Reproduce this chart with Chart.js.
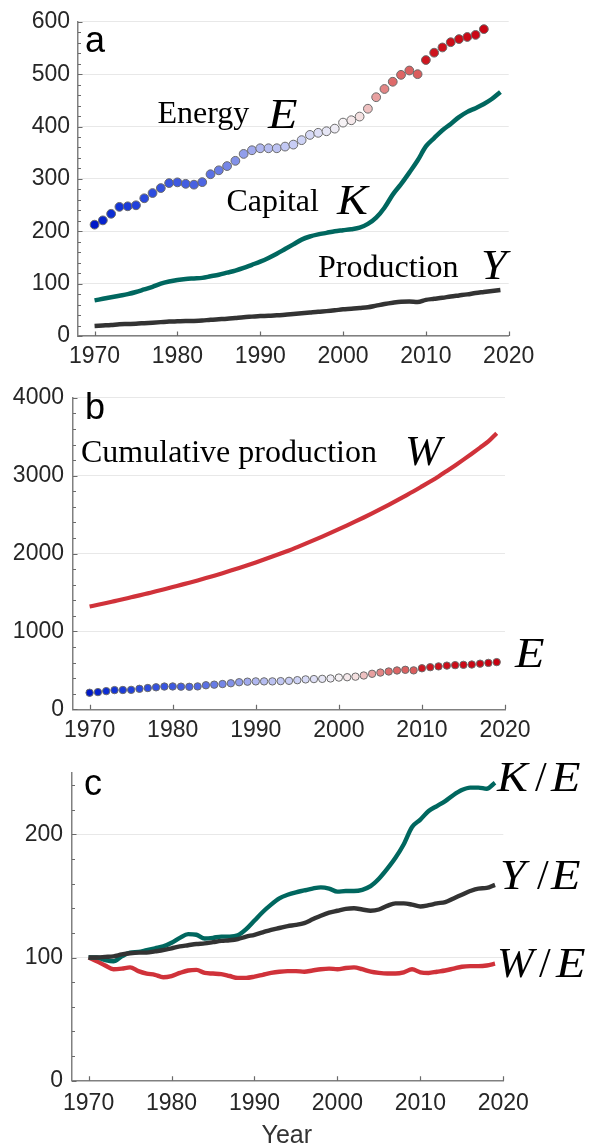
<!DOCTYPE html>
<html><head><meta charset="utf-8">
<script src="https://cdn.jsdelivr.net/npm/chart.js@4.4.1/dist/chart.umd.min.js"></script>
<style>
html,body{margin:0;padding:0;background:#fff;}
body{width:592px;height:1148px;position:relative;overflow:hidden;}
canvas{position:absolute;left:0;}
</style></head><body>
<canvas id="ca" width="592" height="380" style="top:0px;width:592px;height:380px"></canvas>
<canvas id="cb" width="592" height="385" style="top:375px;width:592px;height:385px"></canvas>
<canvas id="cc" width="592" height="398" style="top:750px;width:592px;height:398px"></canvas>
<script>
// ---------------- DATA ----------------
const years = [1970,1971,1972,1973,1974,1975,1976,1977,1978,1979,
               1980,1981,1982,1983,1984,1985,1986,1987,1988,1989,
               1990,1991,1992,1993,1994,1995,1996,1997,1998,1999,
               2000,2001,2002,2003,2004,2005,2006,2007,2008,2009,
               2010,2011,2012,2013,2014,2015,2016,2017,2018,2019];
const energy = [212.6,220.8,233.4,246.6,247.7,249.6,263,273,282.5,292,
                293.4,290.6,289,293.8,308.9,316.4,324.5,334.5,347.7,354.7,
                358.5,358.5,358.5,361.7,365.5,374,384,388,391,396,
                407.5,412,419,434,456,471.7,485.5,498.7,507,500,
                527,541,551,561,567,571,575,586,596,606];
const energyCountPanelA = 48; // panel a shows E for 1970-2017
const capital = [68,71,74,77,80,84,89,94,100,104,
                 107,109,110,111,114,117,121,125,130,136,
                 142,149,157,166,175,184,190,194,197,200,
                 202,204,207,214,226,245,270,290,312,335,
                 362,378,393,405,418,428,435,443,453,466];
const production = [19,20,21,22.5,23,23.5,24.5,25.5,26.5,27.5,
                    28,28.5,28.8,29.5,31,32,33,34.5,36,37,
                    38,38.5,39.5,40.5,42,43.5,45,46.5,47.5,49,
                    51,52,53.5,55,58,61,63.5,65.5,66,65,
                    69,71,73,75.5,77.5,79.5,82,84,86,88];
const cumulative = [1320,1342,1365,1389,1413,1438,1463,1489,1515,1542,
                    1570,1598,1626,1655,1685,1716,1748,1781,1815,1850,
                    1886,1923,1961,2000,2040,2083,2127,2172,2218,2265,
                    2313,2362,2412,2463,2516,2570,2626,2683,2741,2800,
                    2862,2925,2990,3060,3132,3206,3282,3360,3440,3545];
const ratioKE = [100,100,98,97,101,104,104.5,106,107.5,109,
                 112,116,119,118.5,115.5,116,117,117,118,123,
                 130,137,143,148,151,153,154.5,156,157,156,
                 153.5,154,154,155,158,164,172,181,192,206,
                 212,219,223,227,232,236,238,238,237,242];
const ratioYE = [100,100,100.5,101,102.5,103.5,104,104,105,106,
                 107.5,109,110,111,111.5,112.5,113.5,114,115,117,
                 118.5,120.5,122.5,124,125.5,126.5,128,131,134,136.5,
                 138,139.5,140,139,138,139,142,144,144,143,
                 141.5,142.5,144,145,148,151,154,156,156.5,159];
const ratioWE = [100,97,93.5,90.5,91,92,89,87,86,84,
                 85,87.5,89.5,90,87.5,87,86.5,85,83.5,83.5,
                 84.5,86,87.5,88.5,89,89,88.5,89.5,90.5,91,
                 90.5,91.5,92,90.5,88.5,87.5,87,87,88,90.5,
                 88,87.5,88.5,89.5,91,92.5,93,93,93.5,95];
const xTickLabels = [1970,1980,1990,2000,2010,2020];
const yTicksA = [0,100,200,300,400,500,600];
const yTicksB = [0,1000,2000,3000,4000];
const yTicksC = [0,100,200];

// ---------------- STYLE ----------------
const TEAL = '#00675f', DARK = '#333333', RED = '#d0323a';
const AXIS = '#808080', GRID = '#e8e8e8', TICKC = '#262626';
const TICKFONT = {family:'"Liberation Sans", Arial, sans-serif', size:23};
const SERIF = '"Liberation Serif", "Times New Roman", serif';
const colorStops = [
  [1970,[0,25,200]],[1972,[12,45,212]],[1976,[40,72,222]],[1983,[78,102,226]],
  [1987,[130,145,232]],[1990,[176,183,240]],[1995,[206,211,246]],[2000,[246,242,245]],
  [2002,[244,224,224]],[2004,[232,160,160]],[2006,[222,106,106]],[2009,[218,92,92]],
  [2010,[206,22,32]],[2019,[200,0,15]]];
function energyColor(yr){
  for(let i=0;i<colorStops.length-1;i++){
    const [y0,c0]=colorStops[i],[y1,c1]=colorStops[i+1];
    if(yr>=y0&&yr<=y1){const t=(yr-y0)/(y1-y0);
      return 'rgb('+c0.map((c,k)=>Math.round(c+(c1[k]-c)*t)).join(',')+')';}
  }
  return 'rgb(200,0,15)';
}
const pts = (vals) => vals.map((v,i)=>({x:years[i],y:v}));

function tickPlugin(yMajor, yMinorStep, yMax){
  return {id:'innerTicks', afterDraw(chart){
    const {ctx, chartArea:a, scales:{x,y}} = chart;
    ctx.save(); ctx.strokeStyle='#6a6a6a'; ctx.lineWidth=1.2; ctx.beginPath();
    for(let v=0; v<=yMax+1e-9; v+=yMinorStep){
      const py=Math.round(y.getPixelForValue(v))+0.5;
      const len = yMajor.includes(v)?4.5:3;
      ctx.moveTo(a.left,py); ctx.lineTo(a.left+len,py);
    }
    for(const v of xTickLabels){
      const px=Math.round(x.getPixelForValue(v))+0.5;
      ctx.moveTo(px,a.bottom); ctx.lineTo(px,a.bottom-4.5);
    }
    ctx.stroke(); ctx.restore();
  }};
}
function textPlugin(items, offY){
  return {id:'texts', afterDraw(chart){
    const ctx=chart.ctx;
    for(const t of items){
      ctx.save(); ctx.font=t.font; ctx.fillStyle=t.color||'#000';
      ctx.textBaseline='alphabetic'; ctx.textAlign='left';
      ctx.translate(t.x, t.y-offY); if(t.sx) ctx.scale(t.sx,1);
      ctx.fillText(t.text,0,0); ctx.restore();
    }
  }};
}
function panelOptions(c){
  return {
    responsive:false, maintainAspectRatio:false, animation:false,
    layout:{padding:{top:c.top,right:592-c.right,left:0,bottom:0}},
    plugins:{legend:{display:false},tooltip:{enabled:false}},
    elements:{line:{cubicInterpolationMode:'monotone'}},
    scales:{
      x:{type:'linear',min:1968,max:2020,
        afterBuildTicks:s=>{s.ticks=xTickLabels.map(v=>({value:v}));},
        afterFit:s=>{s.height=c.h-c.bottom;},
        grid:{color:'rgba(0,0,0,0)',drawTicks:false},
        border:{display:true,color:AXIS,width:1.5},
        ticks:{padding:c.xPad,font:TICKFONT,color:TICKC,maxRotation:0,autoSkip:false,callback:v=>String(v)}},
      y:{type:'linear',min:0,max:c.yMax,
        afterBuildTicks:s=>{s.ticks=c.yMajor.map(v=>({value:v}));},
        afterFit:s=>{s.width=c.left;},
        grid:{color:GRID,lineWidth:1,drawTicks:false},
        border:{display:true,color:AXIS,width:1.5},
        ticks:{padding:c.yPad,font:TICKFONT,color:TICKC,callback:v=>String(v)}}
    }
  };
}
const lineDs = (data,color,w)=>({data,borderColor:color,borderWidth:w,pointRadius:0,fill:false,clip:false});
const mathFont = 'italic 42px '+SERIF, slashFont = '42px '+SERIF, labFont = '32px '+SERIF;
const letterFont = '36px "Liberation Sans", Arial, sans-serif';

// ---------------- PANEL A ----------------
const eA = pts(energy.slice(0,energyCountPanelA));
new Chart(document.getElementById('ca'),{
  type:'line',
  data:{datasets:[
    {data:eA,showLine:false,pointRadius:4.4,pointBorderWidth:1,pointBorderColor:'#6b6b6b',
     pointBackgroundColor:eA.map(p=>energyColor(p.x)),clip:false},
    lineDs(pts(capital),TEAL,4.5),
    lineDs(pts(production),DARK,4.5)
  ]},
  options:panelOptions({top:18,bottom:336,left:78,right:508.7,h:380,yMax:600,yMajor:yTicksA,yPad:8,xPad:7}),
  plugins:[tickPlugin(yTicksA,20,600), textPlugin([
    {text:'a',x:85,y:51.5,font:letterFont},
    {text:'Energy',x:157.5,y:123.3,font:labFont},
    {text:'E',x:268,y:128,font:mathFont,sx:1.15},
    {text:'Capital',x:226.5,y:210.7,font:labFont},
    {text:'K',x:337,y:214.3,font:mathFont,sx:1.1},
    {text:'Production',x:318,y:276.7,font:labFont},
    {text:'Y',x:481,y:279,font:mathFont,sx:1.1}
  ],0)]
});

// ---------------- PANEL B ----------------
const eB = pts(energy);
new Chart(document.getElementById('cb'),{
  type:'line',
  data:{datasets:[
    {data:eB,showLine:false,pointRadius:3.7,pointBorderWidth:1,pointBorderColor:'#6b6b6b',
     pointBackgroundColor:eB.map(p=>energyColor(p.x)),clip:false},
    lineDs(pts(cumulative),RED,4.2)
  ]},
  options:panelOptions({top:16,bottom:334.3,left:73,right:505,h:385,yMax:4000,yMajor:yTicksB,yPad:9,xPad:8}),
  plugins:[tickPlugin(yTicksB,200,4000), textPlugin([
    {text:'b',x:85,y:419.3,font:letterFont},
    {text:'Cumulative production',x:81,y:461.7,font:labFont},
    {text:'W',x:405,y:465,font:mathFont,sx:1.05},
    {text:'E',x:515,y:666.7,font:mathFont,sx:1.15}
  ],375)]
});

// ---------------- PANEL C ----------------
new Chart(document.getElementById('cc'),{
  type:'line',
  data:{datasets:[
    lineDs(pts(ratioYE),DARK,4.4),
    lineDs(pts(ratioKE),TEAL,4.4),
    lineDs(pts(ratioWE),RED,4.4)
  ]},
  options:panelOptions({top:12,bottom:330.7,left:72,right:503.3,h:398,yMax:250,yMajor:yTicksC,yPad:9,xPad:9}),
  plugins:[tickPlugin(yTicksC,20,240), textPlugin([
    {text:'c',x:84,y:795,font:letterFont},
    {text:'K',x:497,y:790.7,font:mathFont,sx:1.1},
    {text:'/',x:535,y:790.7,font:slashFont},
    {text:'E',x:551,y:790.7,font:mathFont,sx:1.15},
    {text:'Y',x:500,y:889.3,font:mathFont,sx:1.1},
    {text:'/',x:537,y:889.3,font:slashFont},
    {text:'E',x:551,y:889.3,font:mathFont,sx:1.15},
    {text:'W',x:497,y:976.7,font:mathFont,sx:1.05},
    {text:'/',x:539,y:976.7,font:slashFont},
    {text:'E',x:556,y:976.7,font:mathFont,sx:1.15},
    {text:'Year',x:261.5,y:1142.7,font:'25px "Liberation Sans", Arial, sans-serif',color:'#333'}
  ],750)]
});
</script>
</body></html>
